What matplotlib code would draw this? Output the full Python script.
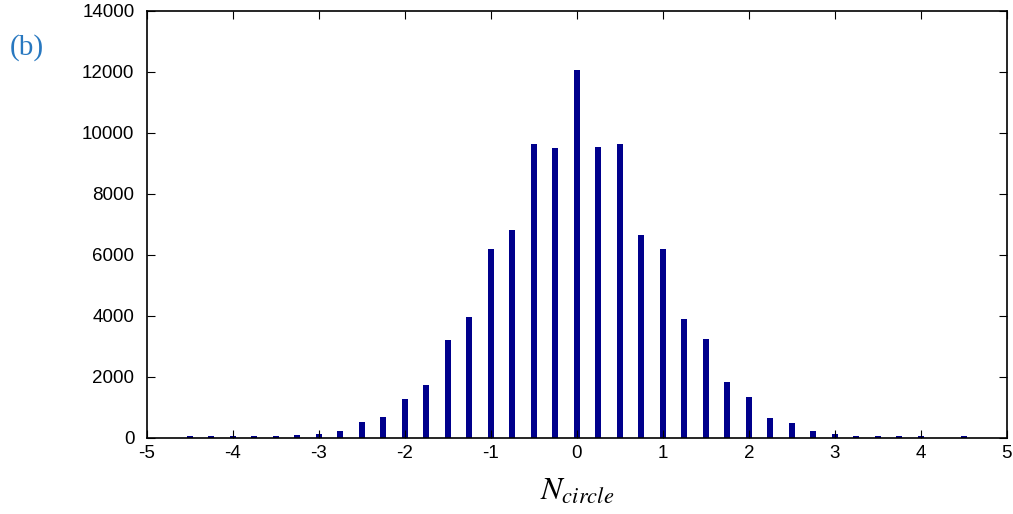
import numpy as np
import matplotlib
matplotlib.use("Agg", force=True)
import matplotlib.pyplot as plt

# histogram bins (step 0.25) and counts
n_circle = np.arange(-4.5, 4.51, 0.25)
counts = [60, 60, 70, 60, 60, 90, 140, 220, 510, 700,
          1260, 1720, 3200, 3950, 6200, 6800, 9650, 9500, 12050,
          9550, 9650, 6650, 6200, 3900, 3250, 1820, 1340, 650,
          480, 220, 140, 60, 60, 60, 60, 0, 50]

x_ticks = [-5, -4, -3, -2, -1, 0, 1, 2, 3, 4, 5]
y_ticks = [0, 2000, 4000, 6000, 8000, 10000, 12000, 14000]

plt.rcParams["font.family"] = ["Liberation Sans", "DejaVu Sans"]
plt.rcParams["mathtext.fontset"] = "stix"

fig = plt.figure(figsize=(10.13, 5.14), dpi=100)
ax = fig.add_axes([0.145, 0.148, 0.849, 0.831])

ax.bar(n_circle, counts, width=0.07, color="#00008c", edgecolor="none")

ax.set_xlim(-5, 5)
ax.set_ylim(0, 14000)
ax.set_xticks(x_ticks)
ax.set_yticks(y_ticks)
ax.set_xticklabels([str(t) for t in x_ticks])
ax.set_yticklabels([str(t) for t in y_ticks])
ax.tick_params(direction="in", length=6, width=0.8, labelsize=13.5,
               top=True, right=True, labeltop=False, labelright=False)
ax.tick_params(axis="y", pad=9)
ax.tick_params(axis="x", pad=5)
for s in ax.spines.values():
    s.set_linewidth(1.2)

ax.set_xlabel(r"$N_{circle}$", fontsize=23, labelpad=11)
fig.text(0.01, 0.908, "(b)", fontsize=21, color="#2878c0",
         family="Liberation Serif", va="center", ha="left")

fig.savefig("out.png", dpi=100)
